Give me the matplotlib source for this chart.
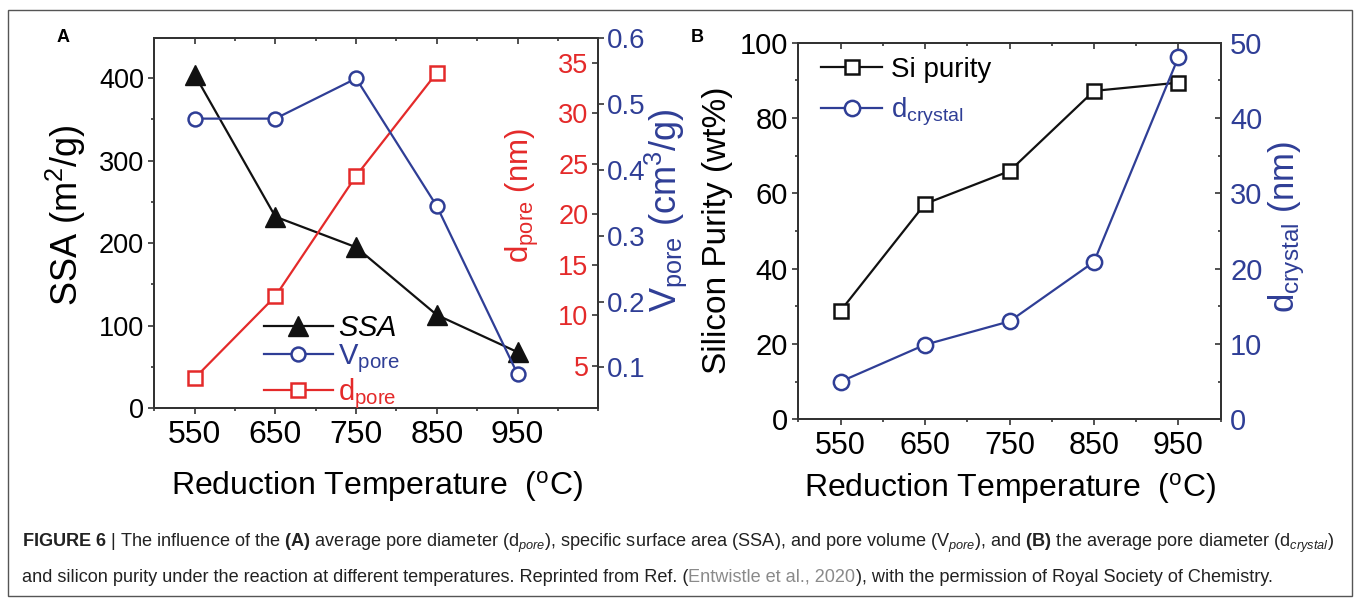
import matplotlib
matplotlib.use('Agg')
import matplotlib.pyplot as plt
from matplotlib.patches import Rectangle
from matplotlib.ticker import MultipleLocator

# values
temps = [550, 650, 750, 850, 950]
ssa = [404, 232, 195, 113, 68]
v_pore = [0.478, 0.478, 0.539, 0.345, 0.090]
d_pore_temps = [550, 650, 750, 850]
d_pore = [3.8, 11.9, 23.8, 34.0]
si_purity = [28.8, 57.2, 65.9, 87.2, 89.4]
d_crystal = [5.0, 9.9, 13.0, 20.9, 48.1]
x_ticks = [550, 650, 750, 850, 950]
ssa_ticks = [0, 100, 200, 300, 400]
d_pore_ticks = [5, 10, 15, 20, 25, 30, 35]
v_pore_ticks = [0.1, 0.2, 0.3, 0.4, 0.5, 0.6]
purity_ticks = [0, 20, 40, 60, 80, 100]
crystal_ticks = [0, 10, 20, 30, 40, 50]

W, H = 1357, 598
RED = '#e42a2a'
BLUE = '#2f3e96'
DARK = '#333333'
FONT = 'Liberation Sans'

plt.rcParams['font.family'] = [FONT, 'DejaVu Sans']
plt.rcParams['mathtext.fontset'] = 'custom'
plt.rcParams['mathtext.rm'] = FONT
plt.rcParams['mathtext.it'] = FONT + ':italic'
plt.rcParams['mathtext.bf'] = FONT + ':bold'
plt.rcParams['mathtext.default'] = 'regular'


def fx(px):
    return px / W


def fy(py):
    return 1 - py / H


def add_axes_px(fig, left, top, right, bottom):
    return fig.add_axes([fx(left), fy(bottom), (right - left) / W, (bottom - top) / H])


def style_spines(ax):
    for s in ax.spines.values():
        s.set_linewidth(1.4)
        s.set_color(DARK)


def tick_lengths(ax, axis):
    ax.tick_params(axis=axis, which='major', length=4.5, width=1.2, color=DARK)
    ax.tick_params(axis=axis, which='minor', length=2.5, width=1.2, color=DARK)


def add_top_ticks(ax):
    # top ticks point inward, bottom ones outward
    top = ax.secondary_xaxis('top')
    top.set_xticks(x_ticks)
    top.xaxis.set_minor_locator(MultipleLocator(50))
    top.tick_params(axis='x', which='both', direction='in', labeltop=False)
    tick_lengths(top, 'x')
    style_spines(top)


def draw_runs(fig, x, y, runs, size):
    # caption pieces in different colours, placed one after another
    renderer = fig.canvas.get_renderer()
    for text, color in runs:
        t = fig.text(x, y, text, fontsize=size, color=color, va='baseline')
        x += t.get_window_extent(renderer).width / W


fig = plt.figure(figsize=(W / 100, H / 100), dpi=100)
fig.patch.set_facecolor('white')
fig.add_artist(Rectangle((fx(8), fy(596)), (1352 - 8) / W, (596 - 10) / H,
                         transform=fig.transFigure, fill=False, ec='#555555', lw=1))

# ---------------- panel A ----------------
ax = add_axes_px(fig, 154.3, 38.3, 598.3, 408.3)
ax_d = ax.twinx()
ax_v = ax.twinx()

l_ssa, = ax.plot(temps, ssa, color='#111111', lw=1.6, marker='^', ms=15)
l_d, = ax_d.plot(d_pore_temps, d_pore, color=RED, lw=1.6, marker='s', ms=10,
                 mfc='white', mec=RED, mew=1.8)
l_v, = ax_v.plot(temps, v_pore, color=BLUE, lw=1.6, marker='o', ms=10,
                 mfc='white', mec=BLUE, mew=1.8)

ax.set_xlim(500, 1050)
ax.set_ylim(0, 448)
ax_d.set_ylim(0.82, 37.4)
ax_v.set_ylim(0.038, 0.6)

ax.set_xticks(x_ticks)
ax.xaxis.set_minor_locator(MultipleLocator(50))
ax.set_yticks(ssa_ticks)
ax.yaxis.set_minor_locator(MultipleLocator(50))
ax.tick_params(axis='both', which='both', direction='out')
ax.tick_params(axis='x', labelsize=23, pad=4)
ax.tick_params(axis='y', labelsize=19.5, pad=3)
tick_lengths(ax, 'x')
tick_lengths(ax, 'y')
add_top_ticks(ax)

ax_d.set_yticks(d_pore_ticks)
ax_d.tick_params(axis='y', direction='in', labelsize=19.5, labelcolor=RED, pad=-7)
tick_lengths(ax_d, 'y')
for lab in ax_d.get_yticklabels():
    lab.set_horizontalalignment('right')

ax_v.set_yticks(v_pore_ticks)
ax_v.tick_params(axis='y', direction='out', labelsize=20, labelcolor=BLUE, pad=1.5)
tick_lengths(ax_v, 'y')

for a in (ax, ax_d, ax_v):
    style_spines(a)

leg = ax_v.legend([l_ssa, l_v, l_d],
                  [r'$\mathit{SSA}$', r'V$_{pore}$', r'd$_{pore}$'],
                  loc='upper left', bbox_to_anchor=(0.247, 0.255), frameon=False,
                  fontsize=21, borderpad=0, borderaxespad=0, handlelength=2.35,
                  handletextpad=0.2, labelspacing=0.02)
for txt, c in zip(leg.get_texts(), ['black', BLUE, RED]):
    txt.set_color(c)

fig.text(fx(66), fy(215), r'SSA (m$^2$/g)', rotation=90, ha='center', va='center', fontsize=26)
fig.text(fx(522), fy(195), r'd$_{pore}$ (nm)', rotation=90, ha='center', va='center',
         fontsize=22.5, color=RED)
fig.text(fx(666), fy(210), r'V$_{pore}$ (cm$^3$/g)', rotation=90, ha='center', va='center',
         fontsize=26, color=BLUE)
fig.text(fx(377), fy(487), r'Reduction Temperature  ($^{o}$C)', ha='center', va='center',
         fontsize=23)
fig.text(fx(63), fy(37), 'A', ha='center', va='center', fontsize=13, weight='bold')

# ---------------- panel B ----------------
bx = add_axes_px(fig, 798.3, 42.7, 1220.7, 419.3)
bx_d = bx.twinx()

l_si, = bx.plot(temps, si_purity, color='#111111', lw=1.6, marker='s', ms=10,
                mfc='white', mec='#111111', mew=1.8)
l_cr, = bx_d.plot(temps, d_crystal, color=BLUE, lw=1.6, marker='o', ms=11,
                  mfc='white', mec=BLUE, mew=1.8)

bx.set_xlim(500, 1000)
bx.set_ylim(0, 100)
bx_d.set_ylim(0, 50)

bx.set_xticks(x_ticks)
bx.xaxis.set_minor_locator(MultipleLocator(50))
bx.set_yticks(purity_ticks)
bx.yaxis.set_minor_locator(MultipleLocator(10))
bx.tick_params(axis='both', which='both', direction='out')
bx.tick_params(axis='x', labelsize=22, pad=4)
bx.tick_params(axis='y', labelsize=21, pad=3)
tick_lengths(bx, 'x')
tick_lengths(bx, 'y')
add_top_ticks(bx)

bx_d.set_yticks(crystal_ticks)
bx_d.yaxis.set_minor_locator(MultipleLocator(5))
bx_d.tick_params(axis='y', which='both', direction='in', labelsize=21, labelcolor=BLUE, pad=6.7)
tick_lengths(bx_d, 'y')

for a in (bx, bx_d):
    style_spines(a)

leg_b = bx_d.legend([l_si, l_cr], ['Si purity', r'd$_{crystal}$'],
                    loc='upper left', bbox_to_anchor=(0.054, 0.962), frameon=False,
                    fontsize=20, borderpad=0, borderaxespad=0, handlelength=2.2,
                    handletextpad=0.3, labelspacing=0.45)
for txt, c in zip(leg_b.get_texts(), ['black', BLUE]):
    txt.set_color(c)

fig.text(fx(717), fy(230), 'Silicon Purity (wt%)', rotation=90, ha='center', va='center',
         fontsize=24)
fig.text(fx(1287), fy(227), r'd$_{crystal}$ (nm)', rotation=90, ha='center', va='center',
         fontsize=25, color=BLUE)
fig.text(fx(1010), fy(488), r'Reduction Temperature  ($^{o}$C)', ha='center', va='center',
         fontsize=23)
fig.text(fx(697), fy(37), 'B', ha='center', va='center', fontsize=13, weight='bold')

# ---------------- caption ----------------
line1 = (r'$\mathbf{FIGURE\ 6}$ | The influence of the $\mathbf{(A)}$ average pore diameter '
         r'(d$_{\mathit{pore}}$), specific surface area (SSA), and pore volume '
         r'(V$_{\mathit{pore}}$), and $\mathbf{(B)}$ the average pore diameter '
         r'(d$_{\mathit{crystal}}$)')
draw_runs(fig, fx(22), fy(547), [(line1, '#222222')], 13.1)
draw_runs(fig, fx(22), fy(582), [
    ('and silicon purity under the reaction at different temperatures. Reprinted from Ref. (',
     '#222222'),
    ('Entwistle et al., 2020', '#8a8a8a'),
    ('), with the permission of Royal Society of Chemistry.', '#222222'),
], 13.1)

fig.savefig('out.png', dpi=100)
